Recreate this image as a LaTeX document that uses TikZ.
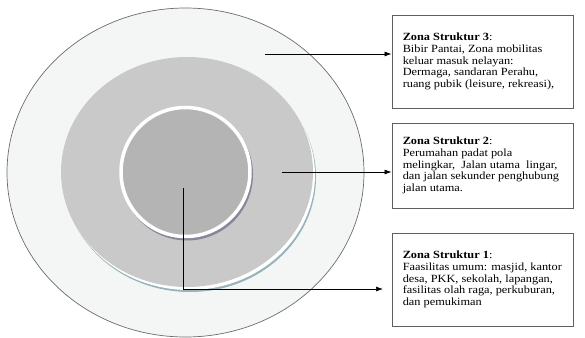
\documentclass[tikz,border=0pt]{standalone}
\usepackage{fontspec}
\setmainfont{Liberation Serif}[FakeStretch=1.12]
\usepackage{tikz}
\usetikzlibrary{arrows.meta}
\definecolor{zonelight}{RGB}{244,246,245}
\definecolor{zonemid}{RGB}{201,201,201}
\definecolor{zonecore}{RGB}{180,180,180}
\definecolor{rimblue}{RGB}{150,180,186}
\definecolor{rimpurple}{RGB}{140,132,152}
\definecolor{boxgray}{RGB}{95,95,95}

\tikzset{
  zonebox/.style={draw=boxgray, line width=0.9pt, minimum width=181pt, inner sep=0pt},
  zonetext/.style={align=left, inner sep=0pt, font=\fontsize{11}{11.7}\selectfont},
  pointer/.style={->, line width=0.7pt},
}

\begin{document}
\begin{tikzpicture}[x=1pt, y=-1pt, >={Latex[length=7pt,width=5pt]}]
    \useasboundingbox (0,0) rectangle (585,337);

    % Outer zone
    \draw[fill=zonelight, draw=gray!85!black, line width=0.7pt] (185.5,172.5) ellipse [x radius=178.5pt, y radius=164.5pt];

    % Middle zone with its rim
    \fill[rimblue] (190,177) ellipse [x radius=126pt, y radius=115pt];
    \fill[white] (189,175) ellipse [x radius=126pt, y radius=115pt];
    \fill[zonemid] (187,172) ellipse [x radius=126pt, y radius=115pt];

    % Core
    \fill[rimpurple] (187,174.5) circle [radius=66pt];
    \draw[fill=zonecore, draw=white, line width=3.5pt] (185.5,172) circle [radius=64.5pt];

    % Boxes
    \node[zonebox, minimum height=93pt] (box3) at (482.5,61.5) {};
    \node[zonetext, anchor=west] (txt3) at ([xshift=11pt]box3.west)
        {\textbf{Zona Struktur 3}:\\ Bibir Pantai, Zona mobilitas\\ keluar masuk nelayan:\\ Dermaga, sandaran Perahu,\\ ruang pubik (leisure, rekreasi),};

    \node[zonebox, minimum height=85pt] (box2) at (482.5,165.5) {};
    \node[zonetext, anchor=west] (txt2) at ([xshift=11pt]box2.west)
        {\textbf{Zona Struktur 2}:\\ Perumahan padat pola\\ melingkar,\ \ Jalan utama\ \ lingar,\\ dan jalan sekunder penghubung\\ jalan utama.};

    \node[zonebox, minimum height=93pt] (box1) at (482.5,279.5) {};
    \node[zonetext, anchor=west] (txt1) at ([xshift=11pt]box1.west)
        {\textbf{Zona Struktur 1}:\\ Faasilitas umum: masjid, kantor\\ desa, PKK, sekolah, lapangan,\\ fasilitas olah raga, perkuburan,\\ dan pemukiman};

    % Pointers
    \coordinate (p3) at (265,54);
    \draw[pointer] (p3) -- (p3 -| box3.west);
    \coordinate (p2) at (282,172);
    \draw[pointer] (p2) -- (p2 -| box2.west);
    \coordinate (p1) at (183,188);
    \coordinate (t1) at (383,289);
    \draw[pointer] (p1) |- (t1);
\end{tikzpicture}
\end{document}
